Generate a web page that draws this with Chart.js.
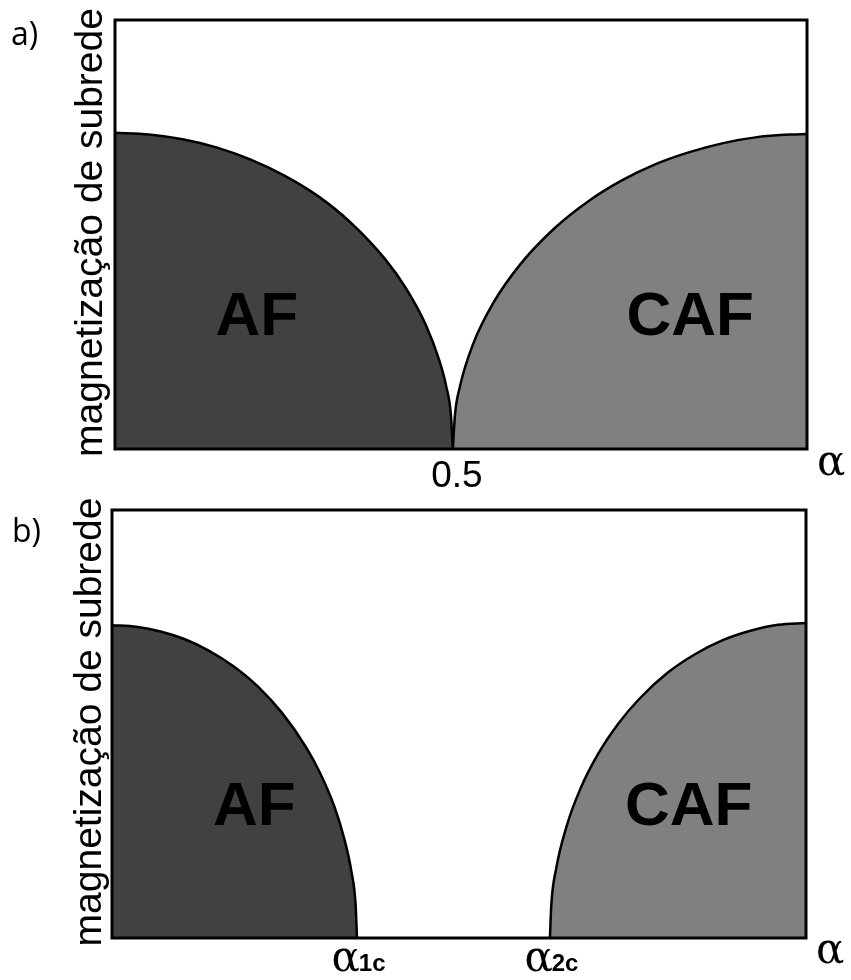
<!DOCTYPE html>
<html>
<head>
<meta charset="utf-8">
<script src="https://cdn.jsdelivr.net/npm/chart.js@4.4.1/dist/chart.umd.min.js"></script>
<style>
  html, body { margin: 0; padding: 0; background: #ffffff; }
  #wrap { position: relative; width: 851px; height: 980px; }
  canvas { position: absolute; left: 0; }
  #cA { top: 0; }
  #cB { top: 490px; }
</style>
</head>
<body>
<div id="wrap">
  <canvas id="cA" width="851" height="490"></canvas>
  <canvas id="cB" width="851" height="490"></canvas>
</div>
<script>
// Panel a) : AF and CAF phases meeting at alpha = 0.5
const alphaAF_a  = [0, 0.05, 0.1, 0.15, 0.2, 0.25, 0.3, 0.35, 0.4, 0.43, 0.46, 0.48, 0.49, 0.497, 0.5];
const magAF_a    = [0.737, 0.733, 0.722, 0.703, 0.675, 0.638, 0.590, 0.526, 0.442, 0.376, 0.289, 0.206, 0.147, 0.081, 0];
const alphaCAF_a = [0.5, 0.503, 0.51, 0.53, 0.56, 0.6, 0.65, 0.7, 0.75, 0.8, 0.85, 0.9, 0.95, 1.0, 1.024];
const magCAF_a   = [0, 0.078, 0.143, 0.245, 0.341, 0.431, 0.514, 0.577, 0.626, 0.664, 0.692, 0.713, 0.727, 0.733, 0.734];
const ticksA      = [0.5];
const tickLabelsA = ['0.5'];

// Panel b) : AF and CAF phases separated by a gap between alpha_1c and alpha_2c
const alphaAF_b  = [0, 0.035, 0.07, 0.105, 0.14, 0.175, 0.21, 0.245, 0.28, 0.30, 0.32, 0.335, 0.345, 0.351, 0.353];
const magAF_b    = [0.731, 0.727, 0.716, 0.698, 0.671, 0.635, 0.588, 0.526, 0.445, 0.385, 0.309, 0.230, 0.155, 0.078, 0];
const alphaCAF_b = [0.631, 0.633, 0.64, 0.655, 0.675, 0.70, 0.73, 0.76, 0.80, 0.84, 0.88, 0.92, 0.96, 1.0];
const magCAF_b   = [0, 0.077, 0.162, 0.261, 0.349, 0.429, 0.502, 0.559, 0.619, 0.663, 0.696, 0.718, 0.732, 0.736];
const ticksB     = [0.353, 0.631];
const tickSubsB  = ['1c', '2c'];

const yTitle = 'magnetização de subrede';
const phaseNames = ['AF', 'CAF'];

const SANS = "'Liberation Sans', Arial, sans-serif";
const GREEK = "'DejaVu Serif', serif";

function pts(xs, ys) { return xs.map((x, i) => ({ x: x, y: ys[i] })); }

function phaseSet(xs, ys, color) {
  return {
    data: pts(xs, ys),
    backgroundColor: color,
    borderColor: '#000000',
    borderWidth: 2.5,
    pointRadius: 0,
    fill: 'origin',
    cubicInterpolationMode: 'monotone'
  };
}

// Frame, axis texts and phase names drawn on top of the filled regions
const decorPlugin = {
  id: 'decor',
  afterDatasetsDraw(chart, args, o) {
    const ctx = chart.ctx;
    const a = chart.chartArea;
    const xs = chart.scales.x, ys = chart.scales.y;
    ctx.save();
    ctx.strokeStyle = '#000000';
    ctx.lineWidth = 3;
    ctx.strokeRect(a.left, a.top, a.right - a.left, a.bottom - a.top);

    ctx.fillStyle = '#000000';
    // panel letter
    ctx.font = "32px 'Open Sans', sans-serif";
    ctx.textAlign = 'left';
    ctx.textBaseline = 'alphabetic';
    ctx.fillText(o.panel, o.panelX, o.panelY);

    // vertical title
    ctx.save();
    ctx.translate(o.titleX, (a.top + a.bottom) / 2 - 2);
    ctx.rotate(-Math.PI / 2);
    ctx.font = '39px ' + SANS;
    ctx.textAlign = 'center';
    ctx.fillText(yTitle, 0, 0);
    ctx.restore();

    // alpha at the right end of the axis
    ctx.font = '42px ' + GREEK;
    ctx.textAlign = 'left';
    ctx.fillText('α', a.right + 10, o.alphaY);

    // tick labels
    if (o.plainTicks) {
      ctx.font = '37px ' + SANS;
      ctx.textAlign = 'center';
      o.plainTicks.forEach((v, i) => {
        ctx.fillText(o.plainLabels[i], xs.getPixelForValue(v) + 4, a.bottom + 38);
      });
    }
    if (o.subTicks) {
      o.subTicks.forEach((v, i) => {
        ctx.font = '42px ' + GREEK;
        const wA = ctx.measureText('α').width;
        ctx.font = 'bold 24px ' + SANS;
        const wS = ctx.measureText(o.subLabels[i]).width;
        const left = xs.getPixelForValue(v) - (wA + wS) / 2 + 2;
        ctx.textAlign = 'left';
        ctx.font = '42px ' + GREEK;
        ctx.fillText('α', left, a.bottom + 33);
        ctx.font = 'bold 24px ' + SANS;
        ctx.fillText(o.subLabels[i], left + wA - 1, a.bottom + 33);
      });
    }

    // phase names
    ctx.font = 'bold 62px ' + SANS;
    ctx.textAlign = 'center';
    o.names.forEach(n => {
      ctx.fillText(n.text, xs.getPixelForValue(n.x), ys.getPixelForValue(n.y));
    });
    ctx.restore();
  }
};

function makeChart(id, sets, xMax, pad, decor) {
  return new Chart(document.getElementById(id), {
    type: 'line',
    data: { datasets: sets },
    options: {
      responsive: false,
      animation: false,
      devicePixelRatio: 1,
      layout: { padding: pad },
      plugins: { legend: { display: false }, tooltip: { enabled: false }, decor: decor },
      scales: {
        x: { type: 'linear', min: 0, max: xMax, display: false },
        y: { type: 'linear', min: 0, max: 1, display: false }
      }
    },
    plugins: [decorPlugin]
  });
}

makeChart('cA',
  [phaseSet(alphaAF_a, magAF_a, '#414141'), phaseSet(alphaCAF_a, magCAF_a, '#808080')],
  1.024,
  { left: 115, right: 44, top: 20, bottom: 41 },
  {
    panel: 'a)', panelX: 11, panelY: 45, titleX: 102, alphaY: 475,
    plainTicks: ticksA, plainLabels: tickLabelsA,
    names: [{ text: phaseNames[0], x: 0.210, y: 0.266 }, { text: phaseNames[1], x: 0.851, y: 0.266 }]
  });

makeChart('cB',
  [phaseSet(alphaAF_b, magAF_b, '#414141'), phaseSet(alphaCAF_b, magCAF_b, '#808080')],
  1,
  { left: 112, right: 45, top: 20, bottom: 42 },
  {
    panel: 'b)', panelX: 12, panelY: 52, titleX: 101, alphaY: 473,
    subTicks: ticksB, subLabels: tickSubsB,
    names: [{ text: phaseNames[0], x: 0.205, y: 0.264 }, { text: phaseNames[1], x: 0.831, y: 0.264 }]
  });
</script>
</body>
</html>
